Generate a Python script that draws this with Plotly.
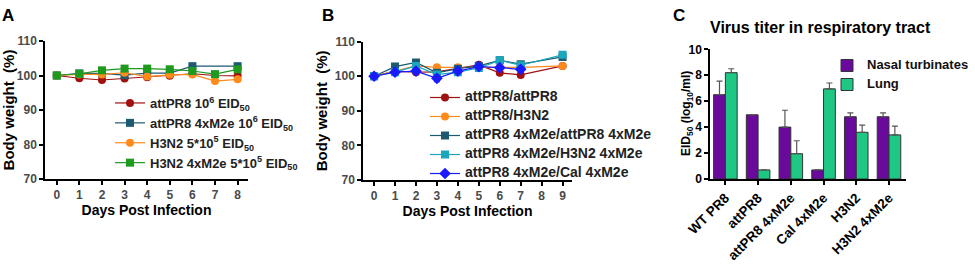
import plotly.graph_objects as go

W, H = 975, 264

# ---------------- data ----------------
days_a = [0, 1, 2, 3, 4, 5, 6, 7, 8]
a_attpr8 = [100, 99.2, 98.7, 99.1, 99.5, 99.9, 100.5, 100.0, 99.9]
a_attpr8_m2e = [100, 100.6, 100.6, 100.1, 100.7, 100.7, 102.7, None, 102.7]
a_h3n2 = [100, 100.3, 100.3, 100.8, 99.7, 100.2, 100.3, 98.4, 98.9]
a_h3n2_m2e = [100, 100.5, 101.5, 102.0, 102.0, 101.8, 101.3, 100.4, 101.8]

days_b = [0, 1, 2, 3, 4, 5, 6, 7, 8, 9]
b_pr8_pr8 = [100, 101.5, 101.2, 101.3, 102.3, 103.3, 101.0, 100.4, None, 103.0]
b_pr8_h3n2 = [100, 101.5, 103.0, 102.6, 102.6, 102.6, 102.6, 102.6, None, 103.0]
b_m2e_m2e = [100, 102.8, 104.0, 101.0, 102.2, 103.0, 104.6, 103.5, None, 105.6]
b_m2e_h3n2 = [100, 101.2, 103.0, 100.5, 101.2, 102.4, 104.6, 103.2, None, 106.2]
b_m2e_cal = [100, 101.2, 101.5, 99.4, 101.5, 102.8, 102.5, 102.0, None, None]
b_m2e_cal_err = [0, 0, 0, 1.0, 0, 0, 0, 0, 0, 0]

groups_c = ["WT PR8", "attPR8", "attPR8 4xM2e", "Cal 4xM2e", "H3N2", "H3N2 4xM2e"]
nasal = [6.5, 4.95, 4.0, 0.7, 4.8, 4.8]
nasal_err = [1.05, 0, 1.3, 0, 0.3, 0.3]
lung = [8.2, 0.7, 1.95, 6.95, 3.6, 3.4]
lung_err = [0.3, 0, 1.0, 0.45, 0.55, 0.68]

yticks_ab = [70, 80, 90, 100, 110]
yticks_c = [0, 2, 4, 6, 8, 10]

# ---------------- style ----------------
FONT = "Liberation Sans"
RED = "#a01010"
TEAL = "#1b5a70"
ORANGE = "#ff8a1c"
GREEN = "#1e9a1e"
LTEAL = "#1aa6bd"
BLUE = "#1a1aff"
PURPLE = "#6a0a9c"
MINT = "#1fc784"


def px_x(a, b):
    return [a / W, b / W]


def px_y(top, bottom):
    return [1 - bottom / H, 1 - top / H]


def big(txt, size):
    return f"<span style='font-size:{size}px'>{txt}</span>"


fig = go.Figure()


def line_trace(x, y, name, color, symbol, xa, ya, legend, size=8, err=None):
    kw = {}
    if err is not None:
        kw["error_y"] = dict(type="data", array=err, color=color, thickness=1, width=3)
    fig.add_trace(go.Scatter(
        x=x, y=y, name=name, mode="lines+markers", connectgaps=True,
        line=dict(color=color, width=1.2),
        marker=dict(color=color, symbol=symbol, size=size),
        xaxis=xa, yaxis=ya, legend=legend, **kw))


# Panel A
line_trace(days_a, a_attpr8, "attPR8 10<sup>6</sup> EID<sub>50</sub>", RED, "circle", "x", "y", "legend")
line_trace(days_a, a_attpr8_m2e, "attPR8 4xM2e 10<sup>6</sup> EID<sub>50</sub>", TEAL, "square", "x", "y", "legend")
line_trace(days_a, a_h3n2, "H3N2 5*10<sup>5</sup> EID<sub>50</sub>", ORANGE, "circle", "x", "y", "legend")
line_trace(days_a, a_h3n2_m2e, "H3N2 4xM2e 5*10<sup>5</sup> EID<sub>50</sub>", GREEN, "square", "x", "y", "legend")

# Panel B
line_trace(days_b, b_pr8_pr8, big("attPR8/attPR8", 14), RED, "circle", "x2", "y2", "legend2")
line_trace(days_b, b_pr8_h3n2, big("attPR8/H3N2", 14), ORANGE, "circle", "x2", "y2", "legend2")
line_trace(days_b, b_m2e_m2e, big("attPR8 4xM2e/attPR8 4xM2e", 14), TEAL, "square", "x2", "y2", "legend2")
line_trace(days_b, b_m2e_h3n2, big("attPR8 4xM2e/H3N2 4xM2e", 14), LTEAL, "square", "x2", "y2", "legend2")
line_trace(days_b, b_m2e_cal, big("attPR8 4xM2e/Cal 4xM2e", 14), BLUE, "diamond", "x2", "y2", "legend2",
           size=9, err=b_m2e_cal_err)

# Panel C
fig.add_trace(go.Bar(
    x=groups_c, y=nasal, name=big("Nasal turbinates", 13),
    marker=dict(color=PURPLE, line=dict(color="#333333", width=1)),
    error_y=dict(type="data", array=nasal_err, arrayminus=[0] * len(nasal), color="#555555", thickness=1.2, width=3),
    xaxis="x3", yaxis="y3", legend="legend3"))
fig.add_trace(go.Bar(
    x=groups_c, y=lung, name=big("Lung", 13),
    marker=dict(color=MINT, line=dict(color="#333333", width=1)),
    error_y=dict(type="data", array=lung_err, arrayminus=[0] * len(lung), color="#555555", thickness=1.2, width=3),
    xaxis="x3", yaxis="y3", legend="legend3"))

axis_common = dict(
    showline=True, linecolor="black", linewidth=1.5, ticks="outside", ticklen=4,
    tickcolor="black", tickwidth=1.5, showgrid=False, zeroline=False, automargin=False,
)
tick_ab = dict(family=FONT, size=12, color="#4a4a4a", weight="bold")
title_font = dict(family=FONT, size=15, color="black", weight="bold")
xtitle_font = dict(family=FONT, size=14, color="black", weight="bold")

fig.update_layout(
    width=W, height=H, margin=dict(l=0, r=0, t=0, b=0, autoexpand=False),
    paper_bgcolor="white", plot_bgcolor="white",
    font=dict(family=FONT, color="black"),
    barmode="group", bargap=0.28, bargroupgap=0,
    xaxis=dict(domain=px_x(45, 248), range=[-0.52, 8.46], anchor="y",
               tickvals=days_a, tickfont=tick_ab,
               title=dict(text="Days Post Infection", font=xtitle_font, standoff=2), **axis_common),
    yaxis=dict(domain=px_y(41, 179), range=[70, 110], anchor="x",
               tickvals=yticks_ab, tickfont=tick_ab,
               title=dict(text="Body weight  (%)", font=title_font, standoff=4), **axis_common),
    xaxis2=dict(domain=px_x(363, 572), range=[-0.53, 9.45], anchor="y2",
                tickvals=days_b, tickfont=tick_ab,
                title=dict(text="Days Post Infection", font=xtitle_font, standoff=2), **axis_common),
    yaxis2=dict(domain=px_y(41.7, 180), range=[70, 110], anchor="x2",
                tickvals=yticks_ab, tickfont=tick_ab,
                title=dict(text="Body weight  (%)", font=title_font, standoff=4), **axis_common),
    xaxis3=dict(domain=px_x(710, 906), range=[-0.47, 5.52], anchor="y3",
                tickangle=-45, tickfont=dict(family=FONT, size=13.5, color="black", weight="bold"),
                **axis_common),
    yaxis3=dict(domain=px_y(49.3, 179), range=[0, 10], anchor="x3",
                tickvals=yticks_c, tickfont=dict(family=FONT, size=12, color="black", weight="bold"),
                **axis_common),
    legend=dict(x=110 / W, y=1 - 88 / H, xanchor="left", yanchor="top",
                bgcolor="rgba(0,0,0,0)", font=dict(family=FONT, size=13, color="#222", weight="bold"),
                tracegroupgap=0),
    legend2=dict(x=425 / W, y=1 - 83 / H, xanchor="left", yanchor="top",
                 bgcolor="rgba(0,0,0,0)", font=dict(family=FONT, size=10, color="#222", weight="bold"),
                 tracegroupgap=0),
    legend3=dict(x=827 / W, y=1 - 51 / H, xanchor="left", yanchor="top",
                 bgcolor="rgba(0,0,0,0)", font=dict(family=FONT, size=10, color="#111", weight="bold"),
                 tracegroupgap=0),
    annotations=[
        dict(text="A", x=0 / W, y=1 - 4 / H, xref="paper", yref="paper", xanchor="left", yanchor="top",
             showarrow=False, font=dict(family=FONT, size=17, color="black", weight="bold")),
        dict(text="B", x=320 / W, y=1 - 4 / H, xref="paper", yref="paper", xanchor="left", yanchor="top",
             showarrow=False, font=dict(family=FONT, size=17, color="black", weight="bold")),
        dict(text="C", x=671 / W, y=1 - 4 / H, xref="paper", yref="paper", xanchor="left", yanchor="top",
             showarrow=False, font=dict(family=FONT, size=17, color="black", weight="bold")),
        dict(text="Virus titer in respiratory tract", x=820 / W, y=1 - 27 / H, xref="paper", yref="paper",
             xanchor="center", yanchor="middle", showarrow=False,
             font=dict(family=FONT, size=16, color="black", weight="bold")),
        dict(text="EID<sub>50</sub> (log<sub>10</sub>/ml)", x=687 / W, y=1 - 114 / H,
             xref="paper", yref="paper", xanchor="center", yanchor="middle", textangle=-90,
             showarrow=False, font=dict(family=FONT, size=12, color="black", weight="bold")),
    ],
)

fig.write_html("out.html", config={"displayModeBar": False},
               post_script="document.body.style.margin='0';document.body.style.overflow='hidden';")
